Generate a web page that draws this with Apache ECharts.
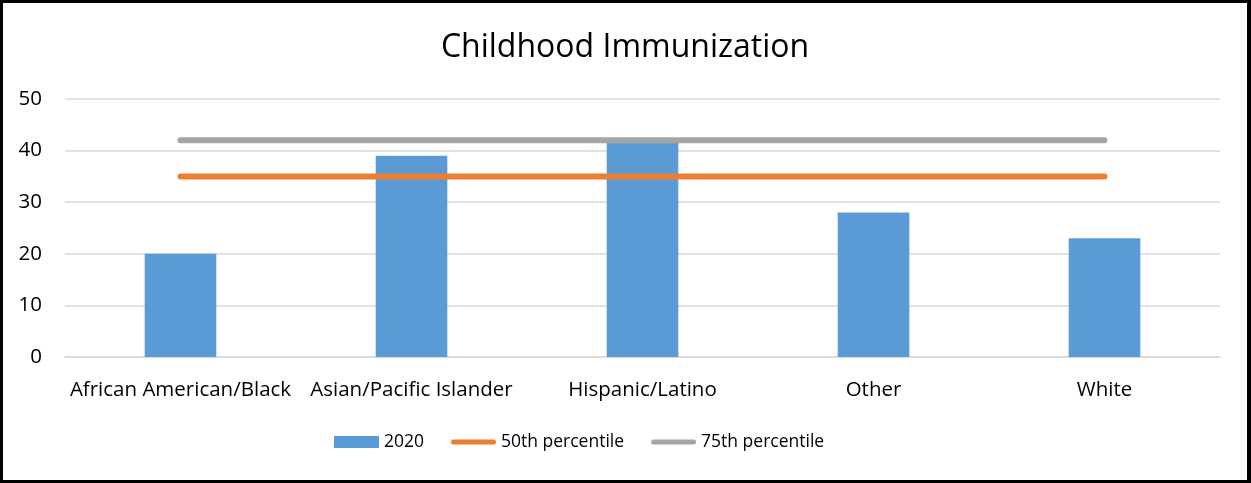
<!DOCTYPE html>
<html><head><meta charset="utf-8">
<script src="https://cdn.jsdelivr.net/npm/echarts@6/dist/echarts.min.js"></script>
<style>
html,body{margin:0;padding:0;background:#fff;}
#c{width:1251px;height:483px;box-sizing:border-box;border:3px solid #000;border-right-width:4px;}
</style></head>
<body><div id="c"></div>
<script>
const categories = ['African American/Black','Asian/Pacific Islander','Hispanic/Latino','Other','White'];
const values2020 = [20, 39, 42, 28, 23];
const p50 = [35, 35, 35, 35, 35];
const p75 = [42, 42, 42, 42, 42];
const yTicks = {min:0, max:50, interval:10};

const chart = echarts.init(document.getElementById('c'));
const font = '"Open Sans", Lato, sans-serif';
const lineIcon = 'path://M0,0 M0,12 M2.5,3.5 L42.5,3.5 A2.5,2.5 0 0 1 42.5,8.5 L2.5,8.5 A2.5,2.5 0 0 1 2.5,3.5 Z';
chart.setOption({
  animation:false,
  textStyle:{fontFamily:font},
  title:{text:'Childhood Immunization', left:'center', top:24,
    textStyle:{fontFamily:font, fontSize:32, fontWeight:'normal', color:'#000'}},
  grid:{left:62, right:27, top:96, bottom:123, containLabel:false},
  legend:{bottom:24, left:326, itemWidth:45, itemHeight:12, itemGap:27,
    textStyle:{fontFamily:font, fontSize:17.5, color:'#000'},
    data:[{name:'2020', icon:'rect'},
          {name:'50th percentile', icon:lineIcon},
          {name:'75th percentile', icon:lineIcon}]},
  xAxis:{type:'category', data:categories,
    axisLine:{lineStyle:{color:'#D9D9D9', width:1.5}}, axisTick:{show:false},
    axisLabel:{fontFamily:font, fontSize:20.5, color:'#000', margin:23, interval:0}},
  yAxis:{type:'value', min:yTicks.min, max:yTicks.max, interval:yTicks.interval,
    axisLine:{show:false}, axisTick:{show:false},
    splitLine:{lineStyle:{color:'#D9D9D9', width:1.5}},
    axisLabel:{fontFamily:font, fontSize:20.5, color:'#000', margin:23}},
  series:[
    {name:'2020', type:'bar', data:values2020, barWidth:'31%', itemStyle:{color:'#5B9BD5'}, z:1},
    {name:'50th percentile', type:'line', data:p50, symbol:'none', z:3,
      lineStyle:{color:'#ED7D31', width:6, cap:'round'}, itemStyle:{color:'#ED7D31'}},
    {name:'75th percentile', type:'line', data:p75, symbol:'none', z:3,
      lineStyle:{color:'#A5A5A5', width:6, cap:'round'}, itemStyle:{color:'#A5A5A5'}}
  ]
});
</script></body></html>
